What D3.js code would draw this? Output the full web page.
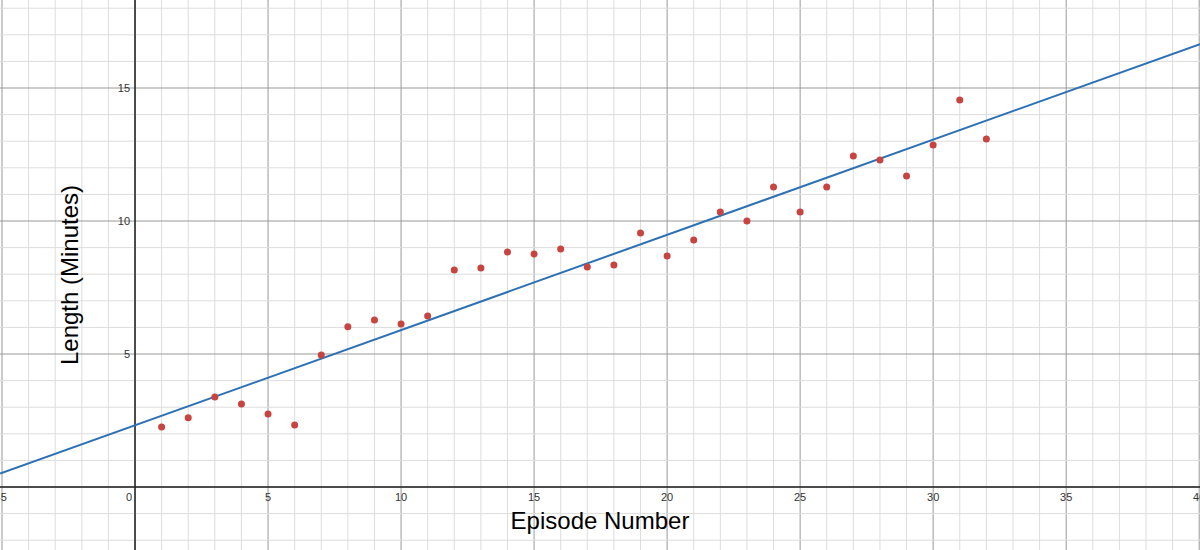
<!DOCTYPE html><html><head><meta charset="utf-8"><script src="https://cdn.jsdelivr.net/npm/d3@7"></script>
<style>body{margin:0;background:#fff}svg{display:block}</style></head><body><svg width="1200" height="550"></svg><script>
const episodes=[1,2,3,4,5,6,7,8,9,10,11,12,13,14,15,16,17,18,19,20,21,22,23,24,25,26,27,28,29,30,31,32];
const lengths=[2.26,2.6,3.38,3.12,2.74,2.33,4.96,6.02,6.28,6.13,6.43,8.16,8.23,8.83,8.76,8.95,8.27,8.35,9.55,8.68,9.29,10.34,10.0,11.28,10.34,11.28,12.44,12.29,11.69,12.86,14.55,13.08];
const fitSlope=0.358, fitIntercept=2.32;
const xTicks=[-5,0,5,10,15,20,25,30,35,40];
const yTicks=[5,10,15];
const W=1200,H=550;
const x=d3.scaleLinear().domain([-5.075,40.03]).range([0,W]);
const y=d3.scaleLinear().domain([0,15]).range([487,88]);
const svg=d3.select("svg");
const g=svg.append("g");
for(let i=-5;i<=40;i++){g.append("line").attr("x1",x(i)).attr("x2",x(i)).attr("y1",0).attr("y2",H).attr("stroke",i%5==0?"#999":"#ddd").attr("stroke-width",1);}
for(let j=-3;j<=19;j++){g.append("line").attr("y1",y(j)).attr("y2",y(j)).attr("x1",0).attr("x2",W).attr("stroke",j%5==0?"#999":"#ddd").attr("stroke-width",1);}
g.append("line").attr("x1",x(0)).attr("x2",x(0)).attr("y1",0).attr("y2",H).attr("stroke","#222").attr("stroke-width",1.5);
g.append("line").attr("y1",y(0)).attr("y2",y(0)).attr("x1",0).attr("x2",W).attr("stroke","#222").attr("stroke-width",1.5);
xTicks.forEach(t=>svg.append("text").attr("x",t==0?x(0)-6:x(t)).attr("y",y(0)+14).attr("text-anchor","middle").attr("font-family","Arial, Liberation Sans").attr("font-size",11).attr("fill","#333").text(t));
yTicks.forEach(t=>svg.append("text").attr("x",x(0)-5).attr("y",y(t)+4).attr("text-anchor","end").attr("font-family","Arial, Liberation Sans").attr("font-size",11).attr("fill","#333").text(t));
svg.append("line").attr("x1",x(-5.075)).attr("y1",y(fitIntercept+fitSlope*-5.075)).attr("x2",x(40.03)).attr("y2",y(fitIntercept+fitSlope*40.03)).attr("stroke","#2d70b3").attr("stroke-width",2);
svg.selectAll("circle").data(episodes).enter().append("circle").attr("cx",d=>x(d)).attr("cy",(d,i)=>y(lengths[i])).attr("r",3.5).attr("fill","#c74440");
svg.append("text").attr("x",600).attr("y",529).attr("text-anchor","middle").attr("font-family","Arial, Liberation Sans").attr("font-size",24).text("Episode Number");
svg.append("text").attr("transform","translate(78,275) rotate(-90)").attr("text-anchor","middle").attr("font-family","Arial, Liberation Sans").attr("font-size",24).text("Length (Minutes)");
</script></body></html>
